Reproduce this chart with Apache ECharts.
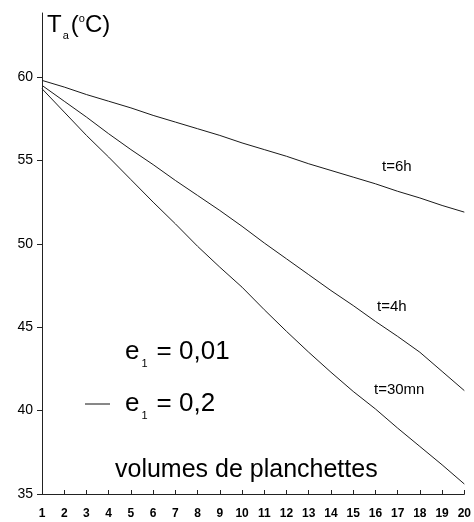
<!DOCTYPE html>
<html>
<head>
<meta charset="utf-8">
<script src="https://cdn.jsdelivr.net/npm/echarts@6/dist/echarts.min.js"></script>
<style>
  html, body { margin: 0; padding: 0; background: #fff; }
  #chart { width: 474px; height: 522px; }
</style>
</head>
<body>
<div id="chart"></div>
<script>
// volumes de planchettes (1..20)
var volumes = [1, 2, 3, 4, 5, 6, 7, 8, 9, 10, 11, 12, 13, 14, 15, 16, 17, 18, 19, 20];
// Ta (°C)
var t6h = [59.8, 59.4, 58.95, 58.55, 58.15, 57.7, 57.3, 56.9, 56.5, 56.05,
           55.65, 55.25, 54.8, 54.4, 54.0, 53.6, 53.15, 52.75, 52.3, 51.9];
var t4h = [59.5, 58.55, 57.6, 56.6, 55.65, 54.75, 53.8, 52.9, 52.0, 51.05,
           50.05, 49.1, 48.15, 47.2, 46.3, 45.35, 44.45, 43.5, 42.35, 41.2];
var t30mn = [59.3, 57.9, 56.5, 55.2, 53.85, 52.5, 51.2, 49.85, 48.6, 47.4,
             46.05, 44.75, 43.5, 42.3, 41.15, 40.1, 38.95, 37.85, 36.75, 35.6];
var yTicks = [35, 40, 45, 50, 55, 60];

function pairs(ys) {
	var out = [];
	for (var i = 0; i < volumes.length; i++) {
		out.push([volumes[i], ys[i]]);
	}
	return out;
}

var lineStyle = { color: '#1a1a1a', width: 1 };
var font = 'Liberation Sans, Arial, sans-serif';

// texte avec indice e1 = ...
function eText(x, y, value) {
	return {
		type: 'text', x: x, y: y,
		style: {
			text: '{e|e}{s|1}{n|= ' + value + '}',
			verticalAlign: 'middle',
			rich: {
				e: { fontSize: 26, fontFamily: font, fill: '#000', lineHeight: 34 },
				s: { fontSize: 11, fontFamily: font, fill: '#000', verticalAlign: 'bottom', padding: [0, 9, 0, 2] },
				n: { fontSize: 26, fontFamily: font, fill: '#000', lineHeight: 34 }
			}
		}
	};
}

var myChart = echarts.init(document.getElementById('chart'));
var option = {
	animation: false,
	backgroundColor: '#fff',
	grid: { left: 42, right: 8, top: 13, bottom: 28 },
	xAxis: {
		type: 'value',
		min: 1,
		max: 20,
		interval: 1,
		splitLine: { show: false },
		axisLine: { lineStyle: { color: '#222', width: 1 } },
		axisTick: { inside: true, length: 4, lineStyle: { color: '#222' } },
		axisLabel: { color: '#000', fontFamily: font, fontWeight: 'bold', fontSize: 12, margin: 14 }
	},
	yAxis: {
		type: 'value',
		min: 35,
		max: 63.84,
		splitLine: { show: false },
		axisLine: { show: true, lineStyle: { color: '#222', width: 1 } },
		axisTick: { show: true, length: 5, customValues: yTicks, lineStyle: { color: '#222' } },
		axisLabel: { color: '#000', fontFamily: font, fontSize: 14, margin: 9, customValues: yTicks }
	},
	series: [
		{ name: 't=6h', type: 'line', data: pairs(t6h), showSymbol: false, lineStyle: lineStyle },
		{ name: 't=4h', type: 'line', data: pairs(t4h), showSymbol: false, lineStyle: lineStyle },
		{ name: 't=30mn', type: 'line', data: pairs(t30mn), showSymbol: false, lineStyle: lineStyle }
	],
	graphic: [
		{
			type: 'text', x: 47, y: 25,
			style: {
				text: '{t|T}{s|a}{n|(}{o|o}{n|C)}',
				verticalAlign: 'middle',
				rich: {
					t: { fontSize: 24, fontFamily: font, fill: '#000', lineHeight: 32 },
					s: { fontSize: 11, fontFamily: font, fill: '#000', verticalAlign: 'bottom', padding: [0, 2, 0, 1] },
					n: { fontSize: 24, fontFamily: font, fill: '#000', lineHeight: 32 },
					o: { fontSize: 11, fontFamily: font, fill: '#000', verticalAlign: 'top', padding: [4, 0, 0, 0] }
				}
			}
		},
		{ type: 'text', x: 382, y: 167, style: { text: 't=6h', fontSize: 15, fontFamily: font, fill: '#000', verticalAlign: 'middle' } },
		{ type: 'text', x: 377, y: 307, style: { text: 't=4h', fontSize: 15, fontFamily: font, fill: '#000', verticalAlign: 'middle' } },
		{ type: 'text', x: 374, y: 390, style: { text: 't=30mn', fontSize: 15, fontFamily: font, fill: '#000', verticalAlign: 'middle' } },
		eText(125, 352, '0,01'),
		{ type: 'line', shape: { x1: 85, y1: 404, x2: 110, y2: 404 }, style: { stroke: '#111', lineWidth: 1 } },
		eText(125, 404, '0,2'),
		{ type: 'text', x: 115, y: 470, style: { text: 'volumes de planchettes', fontSize: 25, fontFamily: font, fill: '#000', verticalAlign: 'middle' } }
	]
};
myChart.setOption(option);
</script>
</body>
</html>
